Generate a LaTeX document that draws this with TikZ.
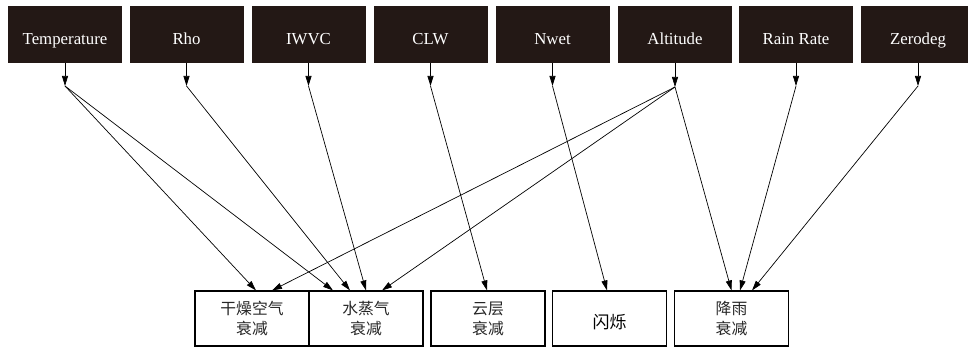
\documentclass[tikz,border=0pt]{standalone}
\usepackage{fontspec}
\setmainfont{Liberation Serif}
\newfontfamily\cjk{Noto Sans CJK SC}
\usetikzlibrary{arrows.meta}

\definecolor{boxdark}{HTML}{231815}

\begin{document}
\begin{tikzpicture}[x=1pt,y=-1pt,
	param/.style = {rectangle,fill=boxdark,text=white,minimum width=114pt,minimum height=57pt,inner sep=0pt,text height=23pt,text depth=2pt,font=\fontsize{16.8}{18}\selectfont},
	effect/.style = {rectangle,draw,line width=1.1pt,minimum width=114pt,minimum height=55pt,inner sep=0pt,align=center,text=black!85,font=\cjk\fontsize{15.8}{20}\selectfont,execute at begin node=\rule{0pt}{21pt}},
	link/.style = {-{Triangle[length=10pt,width=6pt]},line width=0.7pt}]

\useasboundingbox (0,0) rectangle (968,347);

% parameters
\node[param] (temp) at (65,34.5) {Temperature};
\node[param] (rho) at (186.5,34.5) {Rho};
\node[param] (iwvc) at (308.5,34.5) {IWVC};
\node[param] (clw) at (430.5,34.5) {CLW};
\node[param] (nwet) at (552.5,34.5) {Nwet};
\node[param] (alt) at (675,34.5) {Altitude};
\node[param] (rain) at (796,34.5) {Rain Rate};
\node[param] (zero) at (918,34.5) {Zerodeg};

% attenuation terms
\node[effect] (dry) at (252,318.5) {干燥空气\\衰减};
\node[effect] (vapor) at (366,318.5) {水蒸气\\衰减};
\node[effect] (cloud) at (488,318.5) {云层\\衰减};
\node[effect,text=black,font=\cjk\fontsize{17}{20}\selectfont] (scint) at (609.5,318.5) {闪烁};
\node[effect] (rainatt) at (731.5,318.5) {降雨\\衰减};

% junction points
\coordinate (jtemp) at (65,86);
\coordinate (jrho) at (186.5,86);
\coordinate (jiwvc) at (308.5,86);
\coordinate (jclw) at (430.5,86);
\coordinate (jnwet) at (552.5,86);
\coordinate (jalt) at (675,87);
\coordinate (jrain) at (796,86);
\coordinate (jzero) at (918,86);

\draw[link] (temp.south) -- (jtemp);
\draw[link] (rho.south) -- (jrho);
\draw[link] (iwvc.south) -- (jiwvc);
\draw[link] (clw.south) -- (jclw);
\draw[link] (nwet.south) -- (jnwet);
\draw[link] (alt.south) -- (jalt);
\draw[link] (rain.south) -- (jrain);
\draw[link] (zero.south) -- (jzero);

\draw[link] (jtemp) -- ([xshift=4pt]dry.north);
\draw[link] (jtemp) -- ([xshift=-33pt]vapor.north);
\draw[link] (jrho) -- ([xshift=-16pt]vapor.north);
\draw[link] (jiwvc) -- ([xshift=0pt]vapor.north);
\draw[link] (jalt) -- ([xshift=20pt]dry.north);
\draw[link] (jalt) -- ([xshift=16pt]vapor.north);
\draw[link] (jclw) -- ([xshift=-1pt]cloud.north);
\draw[link] (jnwet) -- ([xshift=-2.5pt]scint.north);
\draw[link] (jalt) -- ([xshift=0pt]rainatt.north);
\draw[link] (jrain) -- ([xshift=8.5pt]rainatt.north);
\draw[link] (jzero) -- ([xshift=20.5pt]rainatt.north);
\end{tikzpicture}
\end{document}
